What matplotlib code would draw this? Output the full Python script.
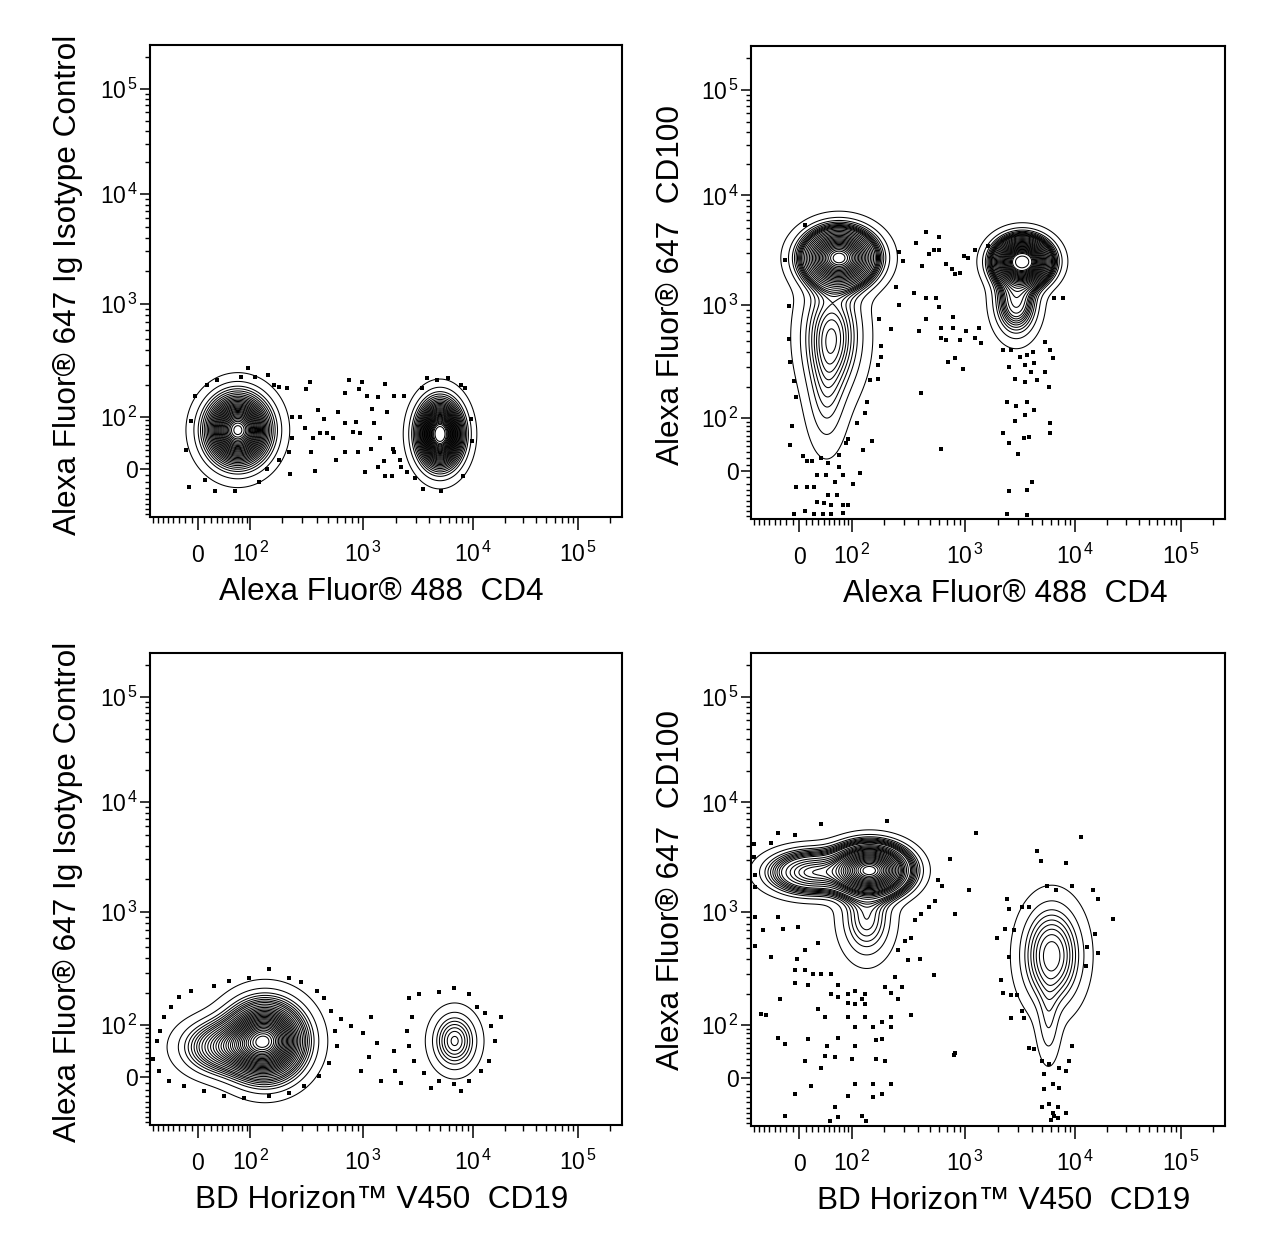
import numpy as np
import matplotlib
matplotlib.use('Agg')
import matplotlib.pyplot as plt
from matplotlib.ticker import FixedLocator, NullFormatter

plt.rcParams['font.family'] = ['Liberation Sans', 'DejaVu Sans']
plt.rcParams['mathtext.fontset'] = 'custom'
plt.rcParams['mathtext.rm'] = 'Liberation Sans'
plt.rcParams['mathtext.it'] = 'Liberation Sans:italic'
plt.rcParams['mathtext.bf'] = 'Liberation Sans:bold'

# ---------------- data ----------------
x_labels = ["Alexa Fluor\u00ae 488  CD4", "Alexa Fluor\u00ae 488  CD4",
            "BD Horizon\u2122 V450  CD19", "BD Horizon\u2122 V450  CD19"]
y_labels = ["Alexa Fluor\u00ae 647 Ig Isotype Control", "Alexa Fluor\u00ae 647  CD100",
            "Alexa Fluor\u00ae 647 Ig Isotype Control", "Alexa Fluor\u00ae 647  CD100"]

major_ticks = [0, 1e2, 1e3, 1e4, 1e5]
major_labels = ["0", r"$10^{\,2}$", r"$10^{\,3}$", r"$10^{\,4}$", r"$10^{\,5}$"]
minor_ticks = ([-80, -70, -60, -50, -40, -30, -20, -10] + list(range(10, 100, 10)) +
               list(range(200, 1000, 100)) + list(range(2000, 10000, 1000)) +
               list(range(20000, 100000, 10000)) + [200000])
axis_min, axis_max = -88.0, 262144.0

# populations: centre x, centre y, outer x range, outer y range, weight
tl_cx = [70, 5000]
tl_cy = [68, 60]
tl_xlo = [-11, 2350]
tl_xhi = [226, 9800]
tl_ylo = [-32, -32]
tl_yhi = [215, 190]
tl_w = [0.55, 0.40]

tr_cx = [70, 55, 45, 3300, 2900]
tr_cy = [2700, 550, 150, 2500, 1100]
tr_xlo = [-16, -15, 0, 1220, 1400]
tr_xhi = [245, 210, 130, 6500, 5500]
tr_ylo = [1130, 60, -50, 1300, 350]
tr_yhi = [6500, 3200, 700, 5400, 3000]
tr_w = [0.36, 0.13, 0.03, 0.27, 0.07]

bl_cx = [140, 41, 6800]
bl_cy = [62, 50, 62]
bl_xlo = [17, -60, 3280]
bl_xhi = [455, 200, 13900]
bl_ylo = [-25, -15, -10]
bl_yhi = [260, 150, 191]
bl_w = [0.60, 0.15, 0.06]

br_cx = [150, 20, 140, 6100, 5700]
br_cy = [2400, 2300, 900, 430, 100]
br_xlo = [32, -100, 50, 2300, 3800]
br_xhi = [420, 150, 330, 16900, 8500]
br_ylo = [1180, 1200, 200, 68, -20]
br_yhi = [4900, 4400, 2500, 2000, 400]
br_w = [0.45, 0.13, 0.05, 0.11, 0.01]

# outlier events (dots)
tl_dx = [93, 31, 76, 110, 148, 170, 190, 14, -4, -11, -19, -14, 11, 28, 65, 122, 146, 190, 230, 245, 245, 222,
         350, 325, 290, 320, 360, 390, 237, 415, 460, 495, 550, 615, 695, 760, 970, 925, 1070, 1200, 1370, 1560,
         1650, 1890, 2340, 695, 900, 1035, 1170, 1370, 1530, 1560, 1830, 700, 810, 935, 860, 1250, 1430, 1870,
         2150, 590, 370, 430,
         3800, 4700, 5900, 3400, 7800, 8400, 9800, 8050, 5150, 3520, 2950, 2500, 2200, 1900, 9500]
tl_dy = [280, 222, 236, 236, 245, 200, 192, 200, 160, 88, 30, -29, -17, -35, -35, -20, 0, 15, 27, 52, 100, 189,
         215, 185, 100, 73, 27, -3, -8, 117, 94, 62, 52, 112, 168, 222, 212, 185, 160, 118, 155, 205,
         112, 160, 160, 27, 27, -4, 33, 3, 12, -11, -11, 85, 65, 62, 86, 85, 52, 33,
         15, 15, 52, 63,
         230, 222, 230, 190, 200, 190, 46, -11, -35, -32, -14, -5, 3, 27, 94]

tr_dx = [9, -22, -16, -16, -14, -8, -5, -11, -14, 6, 20, 35, 47, 12, 29, 44, 69, 78, 62, 23, -5, 12, 47, 65,
         29, 40, 53, 78, 90, -8, 9, 23, 39, 53, 78, 85, 90, 69, 122, 102, 128, 158, 113, 134, 142, 152, 177,
         180, 188, 183, 188, 233, 258, 275, 275, 296,
         380, 470, 430, 490, 540, 600, 595, 690, 770, 820, 900, 980, 1050, 1220, 1590, 370, 470, 570, 595, 470,
         410, 620, 620, 690, 790, 790, 900, 1010, 1220, 1380, 1320, 715, 820, 960, 420, 620,
         2200, 2600, 3150, 3650, 4100, 5300, 5900, 6200, 2480, 3500, 4200, 3950, 5300, 2800, 3500, 4450, 5700,
         2400, 2900, 3650, 4200, 3500, 2800, 2200, 2480, 3400, 3800, 5900, 5900, 3000, 4050, 2480, 3600, 2400,
         3600, 7700, 6400]
tr_dy = [5400, 2600, 980, 515, 330, 226, 162, 80, 43, 24, 15, 20, 12, 15, -6, -6, 6, -6, -17, -26, -26, -26,
         -39, -39, -51, -53, -58, -58, -57, -77, -70, -77, -77, -77, -75, 46, 53, 26, -3, -21, 33, 49, 89, 112,
         144, 230, 236, 309, 363, 765, 450, 630, 1450, 1000, 3050, 2500,
         3650, 4600, 2280, 2900, 3150, 3150, 4130, 2390, 2140, 1900, 1950, 2800, 2700, 3150, 3450, 1290, 1150,
         1150, 970, 765, 600, 640, 530, 510, 640, 790, 510, 600, 530, 480, 640, 330, 355, 285, 177, 36,
         420, 420, 365, 380, 400, 490, 420, 355, 300, 310, 320, 270, 270, 236, 220, 230, 198,
         144, 133, 144, 120, 108, 94, 65, 46, 55, 57, 89, 65, 27, -17, -32, -30, -77,
         -79, 1150, 1150]

bl_dx = [-30, -11, 25, 52, 97, 152, 230, 295, 405, 465, 530, 575, 595, 510, 420, 310, 230, 152, 85, 43, 9,
         -22, -48, -68, -80, -72, -65, -57, -44,
         650, 780, 1000, 1180, 1330, 1130, 1450, 950,
         2600, 3200, 4900, 6700, 9200, 10900, 13000, 14900, 16300, 18600, 14300, 11900, 9200, 6700, 4900,
         3550, 2880, 2600, 2480, 2780, 1900, 1950, 2200, 4150, 7800]
bl_dy = [186, 210, 230, 255, 270, 325, 270, 250, 210, 180, 135, 85, 52, 22, 1, -14, -25, -30, -34, -30, -22,
         -14, -6, 9, 29, 63, 85, 118, 150,
         113, 96, 80, 118, 57, 32, -6, 9,
         180, 195, 205, 220, 195, 150, 130, 96, 63, 118, 25, 9, -6, -11, -6,
         6, 25, 52, 85, 118, 43, 9, -9, -18, -22]

br_dx = [36, 215, -34, -46, -7, -80, -80, -78, -78, -78, -78, -62, -34, -25, -2, -46, -4, 9, 30, -7,
         9, 22, -7, 14, 36, 54, 68, 54, 68, 90, 108, 134, 125, 90, 108, 134, 30, 42, 90, 108, 134, 160, 192,
         235, 207, 235, 270, 250, 290, 330, 270, 310, 350, 375, 425, 490, 560, 630, 590, 745, 820, 540, 415,
         350, 235, 192, 172, 108, 68, 46, 9, 42, 61, 100, 172, 207, 36, 108, 160, 235, 19, -7, 90, 160, 192,
         61, -34, -22, 14, -65, -31, 795, 1080, 1240, -22, 68, 125, 52, 138, -56, 820,
         4500, 4850, 8200, 11300, 5550, 6650, 9400, 14600, 16300, 22500, 16300, 15300, 13000, 2400, 2480,
         3300, 3800, 2300, 2780, 1950, 2480, 2100, 2180, 2590, 2950, 2590, 3250, 3400, 3800, 4200, 9400,
         8800, 5000, 5800, 7100, 5200, 6200, 7100, 5200, 5800, 5000, 6900, 6450, 8200, 8200, 12500,
         6200, 7000, 6000]
br_dy = [6400, 6800, 5300, 4300, 5000, 4200, 3200, 2200, 1700, 900, 520, 700, 900, 720, 745, 420, 400, 475,
         550, 320,
         320, 300, 250, 240, 300, 300, 240, 200, 187, 200, 212, 200, 180, 165, 160, 160, 145, 122, 122, 95,
         122, 95, 108, 122, 228, 205, 180, 280, 228, 390, 475, 565, 610, 850, 970, 1110, 1270, 1720, 1950,
         3070, 970, 290, 400, 126, 95, 68, 66, 53, 71, 53, 27, 35, 33, 31, 31, 27, 16, -10, -10, -10, -12,
         -26, -29, -31, -26, -48, 71, 57, 68, 130, 180, 38, 1600, 5300, -66, -67, -66, -76, -76, 128, 40,
         3600, 2900, 2800, 4800, 1720, 1600, 1720, 1600, 1320, 880, 450, 650, 505, 1320, 1070,
         1110, 1110, 720, 700, 600, 420, 262, 205, 195, 195, 118, 140, 118, 50, 48, 53,
         27, 27, 22, 16, 6, -10, -16, -18, -42, -49, -49, -66, -59, 11, 350,
         -60, -70, -75]

# ---------------- biexponential display scale ----------------
SCALE_C = 75.0
KNOT_V = np.array([-88.0, 0.0, 1e2, 1e3, 1e4, 1e5, 262144.0])
KNOT_P = np.array([0.0, 48.0, 100.5, 213.5, 323.0, 428.0, 472.0]) / 472.0
KNOT_U = np.arcsinh(KNOT_V / SCALE_C)


def _interp_ext(x, xp, fp):
    x = np.asarray(x, dtype=float)
    y = np.interp(x, xp, fp)
    s0 = (fp[1] - fp[0]) / (xp[1] - xp[0])
    s1 = (fp[-1] - fp[-2]) / (xp[-1] - xp[-2])
    y = np.where(x < xp[0], fp[0] + (x - xp[0]) * s0, y)
    y = np.where(x > xp[-1], fp[-1] + (x - xp[-1]) * s1, y)
    return y


def fwd(v):
    return _interp_ext(np.arcsinh(np.asarray(v, dtype=float) / SCALE_C), KNOT_U, KNOT_P)


def inv(p):
    u = _interp_ext(p, KNOT_P, KNOT_U)
    return SCALE_C * np.sinh(np.clip(u, -40, 40))


# ---------------- density model ----------------
R_OUT = 2.6
NG = 500
grid = (np.arange(NG) + 0.5) / NG
GX, GY = np.meshgrid(grid, grid)
grid_data = inv(grid)
PROBS = list(np.round(np.arange(0.03, 0.88, 0.03), 2)) + [0.90, 0.94, 0.98]


def density(cx, cy, xlo, xhi, ylo, yhi, w):
    Z = np.zeros_like(GX)
    for i in range(len(cx)):
        mx, my = fwd(cx[i]), fwd(cy[i])
        sx = (fwd(xhi[i]) - fwd(xlo[i])) / (2 * R_OUT)
        sy = (fwd(yhi[i]) - fwd(ylo[i])) / (2 * R_OUT)
        Z += w[i] / (sx * sy) * np.exp(-0.5 * (((GX - mx) / sx) ** 2 + ((GY - my) / sy) ** 2))
    return Z


def prob_levels(Z):
    zs = np.sort(Z.ravel())[::-1]
    cum = np.cumsum(zs)
    cum /= cum[-1]
    lv = sorted(set(float(zs[min(np.searchsorted(cum, p), len(zs) - 1)]) for p in PROBS))
    return lv


# ---------------- figure ----------------
W, H = 1275, 1246
fig = plt.figure(figsize=(W / 100, H / 100), dpi=100)

boxes = [(150, 45, 622, 517), (751, 46, 1225, 519), (150, 653, 622, 1125), (751, 653, 1225, 1126)]
xlab_pos = [0.49, 0.536, 0.49, 0.534]
ylab_pos = [(-0.1568, 0.4915), (-0.152, 0.495), (-0.1568, 0.4936), (-0.152, 0.499)]

panels = [
    (tl_cx, tl_cy, tl_xlo, tl_xhi, tl_ylo, tl_yhi, tl_w, tl_dx, tl_dy),
    (tr_cx, tr_cy, tr_xlo, tr_xhi, tr_ylo, tr_yhi, tr_w, tr_dx, tr_dy),
    (bl_cx, bl_cy, bl_xlo, bl_xhi, bl_ylo, bl_yhi, bl_w, bl_dx, bl_dy),
    (br_cx, br_cy, br_xlo, br_xhi, br_ylo, br_yhi, br_w, br_dx, br_dy),
]

for k, (box, pan) in enumerate(zip(boxes, panels)):
    x0, y0, x1, y1 = box
    ax = fig.add_axes([x0 / W, 1 - y1 / H, (x1 - x0) / W, (y1 - y0) / H])
    ax.set_xscale('function', functions=(fwd, inv))
    ax.set_yscale('function', functions=(fwd, inv))
    ax.set_xlim(axis_min, axis_max)
    ax.set_ylim(axis_min, axis_max)

    cx, cy, xlo, xhi, ylo, yhi, w, dx, dy = pan
    Z = density(cx, cy, xlo, xhi, ylo, yhi, w)
    ax.contour(grid_data, grid_data, Z, levels=prob_levels(Z), colors='k', linewidths=0.75)
    ax.scatter(dx, dy, s=7, marker='s', c='k', linewidths=0, zorder=3)

    for axis in (ax.xaxis, ax.yaxis):
        axis.set_major_locator(FixedLocator(major_ticks))
        axis.set_minor_locator(FixedLocator(minor_ticks))
        axis.set_minor_formatter(NullFormatter())
    ax.set_xticks(major_ticks)
    ax.set_xticklabels(major_labels, fontsize=16.5)
    ax.set_yticks(major_ticks)
    ax.set_yticklabels(major_labels, fontsize=16.5)
    ax.set_xlim(axis_min, axis_max)
    ax.set_ylim(axis_min, axis_max)

    ax.tick_params(axis='x', which='major', direction='out', length=9.4, width=1.1, pad=23)
    ax.tick_params(axis='x', which='minor', direction='out', length=4.3, width=1.0)
    ax.tick_params(axis='y', which='major', direction='out', length=7.2, width=1.1, pad=1.5)
    ax.tick_params(axis='y', which='minor', direction='out', length=3.6, width=1.0)
    for lab in ax.get_xticklabels():
        lab.set_verticalalignment('baseline')
    for sp in ax.spines.values():
        sp.set_linewidth(1.5)

    ax.text(xlab_pos[k], -0.176, x_labels[k], transform=ax.transAxes, ha='center',
            va='baseline', fontsize=22.7)
    ax.text(ylab_pos[k][0], ylab_pos[k][1], y_labels[k], transform=ax.transAxes,
            ha='center', va='baseline', rotation=90, rotation_mode='anchor', fontsize=22.7)

fig.savefig('out.png', dpi=100)
